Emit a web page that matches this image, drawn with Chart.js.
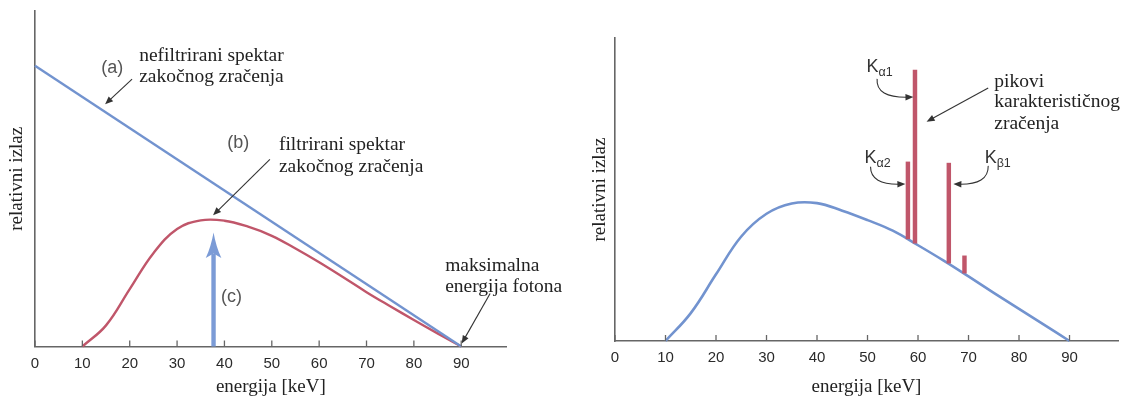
<!DOCTYPE html>
<html>
<head>
<meta charset="utf-8">
<script src="https://cdn.jsdelivr.net/npm/chart.js@4.4.1/dist/chart.umd.min.js"></script>
<style>
    html, body { margin: 0; padding: 0; background: #fff; }
    #wrap { position: relative; width: 1126px; height: 396px; overflow: hidden; }
    .box { position: absolute; top: 0; height: 396px; }
    #left { left: 0; width: 580px; }
    #right { left: 580px; width: 546px; }
</style>
</head>
<body>
<div id="wrap">
    <div class="box" id="left"><canvas id="c1" width="580" height="396" style="width:580px;height:396px"></canvas></div>
    <div class="box" id="right"><canvas id="c2" width="546" height="396" style="width:546px;height:396px"></canvas></div>
</div>
<script>
    "use strict";

    // x axis ticks (keV), shared by both panels
    var energyTicks = [0, 10, 20, 30, 40, 50, 60, 70, 80, 90];

    // left panel: (a) unfiltered and (b) filtered bremsstrahlung
    var unfilteredE = [0, 90];
    var unfilteredY = [83.7, 0];
    var filteredE = [10, 15, 20, 25, 30, 35, 40, 45, 50, 55, 60, 65, 70, 75, 80, 85, 90];
    var filteredY = [0, 6.3, 17.1, 27.8, 35.0, 37.6, 37.5, 35.7, 33.0, 29.2, 25.1, 20.7, 16.2, 12.0, 7.9, 3.9, 0];
    // (c) mean energy arrow
    var arrowE = 37.7;
    var arrowBase = 27.7;
    var arrowTip = 34.0;

    // right panel: spectrum plus characteristic peaks
    var spectrumE = [10, 15, 20, 25, 30, 35, 40, 45, 50, 55, 60, 65, 70, 75, 80, 85, 90];
    var spectrumY = [0, 9.2, 22.0, 34.5, 42.0, 45.4, 45.5, 43.0, 39.9, 36.4, 31.6, 26.6, 21.3, 15.9, 10.6, 5.3, 0];
    var peakE = [58.0, 59.4, 66.1, 69.2];
    var peakLow = [33.7, 32.3, 25.7, 22.4];
    var peakHigh = [59.1, 89.4, 58.7, 28.1];

    var BLUE = "#7293cf";
    var RED = "#c0566a";
    var AXIS = "#666";
    var SERIF = "'Liberation Serif', 'Times New Roman', serif";
    var SANS = "'Liberation Sans', Arial, sans-serif";

    function pts(xs, ys) {
        return xs.map(function (v, i) { return {x: v, y: ys[i]}; });
    }

    function px(chart, vx, vy) {
        return [chart.scales.x.getPixelForValue(vx), chart.scales.y.getPixelForValue(vy)];
    }

    function text(chart, s, vx, vy, font, color, align) {
        var ctx = chart.ctx, p = px(chart, vx, vy);
        ctx.save();
        ctx.font = font;
        ctx.fillStyle = color;
        ctx.textAlign = align || "left";
        ctx.textBaseline = "alphabetic";
        ctx.fillText(s, p[0], p[1]);
        ctx.restore();
    }

    function kLabel(chart, sub, vx, vy) {
        var ctx = chart.ctx, p = px(chart, vx, vy);
        ctx.save();
        ctx.fillStyle = "#333";
        ctx.textBaseline = "alphabetic";
        ctx.font = "18px " + SANS;
        ctx.fillText("K", p[0], p[1]);
        var w = ctx.measureText("K").width;
        ctx.font = "12.5px " + SANS;
        ctx.fillText(sub, p[0] + w, p[1] + 4.5);
        ctx.restore();
    }

    // thin black arrow, optional quadratic control point
    function arrow(chart, from, to, ctrl) {
        var ctx = chart.ctx;
        var a = px(chart, from[0], from[1]), b = px(chart, to[0], to[1]);
        var c = ctrl ? px(chart, ctrl[0], ctrl[1]) : a;
        ctx.save();
        ctx.strokeStyle = "#333";
        ctx.fillStyle = "#333";
        ctx.lineWidth = 1.1;
        var ang = Math.atan2(b[1] - c[1], b[0] - c[0]);
        var ex = b[0] - Math.cos(ang) * 5, ey = b[1] - Math.sin(ang) * 5;
        ctx.beginPath();
        ctx.moveTo(a[0], a[1]);
        if (ctrl) {
            ctx.quadraticCurveTo(c[0], c[1], ex, ey);
        } else {
            ctx.lineTo(ex, ey);
        }
        ctx.stroke();
        ctx.beginPath();
        ctx.moveTo(b[0], b[1]);
        ctx.lineTo(b[0] - Math.cos(ang) * 8 + Math.sin(ang) * 3.3, b[1] - Math.sin(ang) * 8 - Math.cos(ang) * 3.3);
        ctx.lineTo(b[0] - Math.cos(ang) * 8 - Math.sin(ang) * 3.3, b[1] - Math.sin(ang) * 8 + Math.cos(ang) * 3.3);
        ctx.closePath();
        ctx.fill();
        ctx.restore();
    }

    // tick marks point up into the plot, like the figure
    var innerTicks = {
        id: "innerTicks",
        afterDraw: function (chart) {
            var ctx = chart.ctx, sx = chart.scales.x, bottom = chart.chartArea.bottom;
            ctx.save();
            ctx.strokeStyle = AXIS;
            ctx.lineWidth = 1.3;
            sx.ticks.forEach(function (t) {
                var x = sx.getPixelForValue(t.value);
                ctx.beginPath();
                ctx.moveTo(x, bottom);
                ctx.lineTo(x, bottom - 6);
                ctx.stroke();
            });
            ctx.restore();
        }
    };

    var leftNotes = {
        id: "leftNotes",
        afterDatasetsDraw: function (chart) {
            var ctx = chart.ctx;
            var tip = px(chart, arrowE, arrowTip), base = px(chart, arrowE, arrowBase);
            ctx.save();
            ctx.fillStyle = "#7b9bd6";
            ctx.beginPath();
            ctx.moveTo(tip[0], tip[1]);
            ctx.quadraticCurveTo(tip[0] + 2.5, base[1] - 7, tip[0] + 7.8, base[1] + 4.5);
            ctx.lineTo(tip[0], base[1]);
            ctx.lineTo(tip[0] - 7.8, base[1] + 4.5);
            ctx.quadraticCurveTo(tip[0] - 2.5, base[1] - 7, tip[0], tip[1]);
            ctx.fill();
            ctx.restore();

            var serif = "19.5px " + SERIF, sans = "18px " + SANS;
            text(chart, "(a)", 16.3, 81.4, sans, "#555", "center");
            text(chart, "nefiltrirani spektar", 22.0, 85.1, serif, "#222");
            text(chart, "zakočnog zračenja", 22.0, 78.8, serif, "#222");
            arrow(chart, [20.5, 79.7], [14.8, 72.2]);

            text(chart, "(b)", 42.9, 59.2, sans, "#555", "center");
            text(chart, "filtrirani spektar", 51.5, 58.5, serif, "#222");
            text(chart, "zakočnog zračenja", 51.5, 51.9, serif, "#222");
            arrow(chart, [49.6, 55.8], [37.6, 39.1]);

            text(chart, "(c)", 41.5, 13.2, sans, "#555", "center");
            text(chart, "maksimalna", 86.6, 22.4, serif, "#222");
            text(chart, "energija fotona", 86.6, 16.1, serif, "#222");
            arrow(chart, [96.1, 15.8], [90.1, 0.9]);
        }
    };

    var rightNotes = {
        id: "rightNotes",
        afterDatasetsDraw: function (chart) {
            var serif = "19.5px " + SERIF;
            kLabel(chart, "α1", 49.8, 88.9);
            arrow(chart, [51.9, 86.5], [59.1, 80.5], [51.6, 80.2]);
            kLabel(chart, "α2", 49.4, 58.8);
            arrow(chart, [50.6, 57.5], [57.5, 51.8], [50.6, 51.5]);
            kLabel(chart, "β1", 73.2, 58.8);
            arrow(chart, [73.9, 57.8], [67.0, 51.8], [74.0, 51.5]);

            text(chart, "pikovi", 75.1, 83.9, serif, "#222");
            text(chart, "karakterističnog", 75.1, 77.3, serif, "#222");
            text(chart, "zračenja", 75.1, 70.0, serif, "#222");
            arrow(chart, [73.9, 83.5], [61.7, 72.4]);
        }
    };

    function axes(yTitlePad, xTitlePad, xTickPad) {
        return {
            x: {
                type: "linear",
                min: 0,
                max: 99.6,
                offset: false,
                afterBuildTicks: function (scale) {
                    scale.ticks = energyTicks.map(function (v) { return {value: v}; });
                },
                grid: {display: false, drawTicks: false, offset: false},
                border: {display: true, color: AXIS, width: 1.6},
                ticks: {
                    padding: xTickPad,
                    color: "#2a2a2a",
                    font: {family: SANS, size: 15},
                    maxRotation: 0,
                    autoSkip: false
                },
                title: {
                    display: true,
                    text: "energija [keV]",
                    color: "#222",
                    font: {family: SERIF, size: 19},
                    padding: xTitlePad
                }
            },
            y: {
                type: "linear",
                min: 0,
                max: 100,
                grid: {display: false, drawTicks: false},
                border: {display: true, color: AXIS, width: 1.6},
                ticks: {display: false},
                title: {
                    display: true,
                    text: "relativni izlaz",
                    color: "#222",
                    font: {family: SERIF, size: 19},
                    padding: yTitlePad
                }
            }
        };
    }

    var common = {
        responsive: false,
        animation: false,
        events: [],
        plugins: {legend: {display: false}, tooltip: {enabled: false}}
    };

    new Chart(document.getElementById("c1").getContext("2d"), {
        type: "line",
        data: {
            datasets: [{
                data: pts(unfilteredE, unfilteredY),
                borderColor: BLUE,
                borderWidth: 2.4,
                pointRadius: 0,
                clip: false
            }, {
                data: pts(filteredE, filteredY),
                borderColor: RED,
                borderWidth: 2.4,
                pointRadius: 0,
                tension: 0.4,
                clip: false
            }, {
                data: [{x: arrowE, y: 0}, {x: arrowE, y: arrowBase}],
                borderColor: "#7b9bd6",
                borderWidth: 4.4,
                borderCapStyle: "butt",
                pointRadius: 0,
                clip: false
            }]
        },
        options: Object.assign({}, common, {
            layout: {padding: {left: 0, top: 11, right: 73.3, bottom: 0}},
            scales: axes({top: 5.6, bottom: 6.6}, {top: -6.3, bottom: -2}, 8.5)
        }),
        plugins: [innerTicks, leftNotes]
    });

    new Chart(document.getElementById("c2").getContext("2d"), {
        type: "line",
        data: {
            datasets: [{
                data: pts(spectrumE, spectrumY),
                borderColor: BLUE,
                borderWidth: 2.6,
                pointRadius: 0,
                tension: 0.4,
                clip: false
            }, {
                type: "bar",
                data: peakE.map(function (v, i) { return {x: v, y: [peakLow[i], peakHigh[i]]}; }),
                backgroundColor: RED,
                borderWidth: 0,
                barThickness: 3.8,
                order: -1
            }]
        },
        options: Object.assign({}, common, {
            layout: {padding: {left: 0, top: 38, right: 8, bottom: 0}},
            scales: axes({top: 9.1, bottom: 3.1}, {top: 0.2, bottom: -2}, 8)
        }),
        plugins: [innerTicks, rightNotes]
    });
</script>
</body>
</html>
